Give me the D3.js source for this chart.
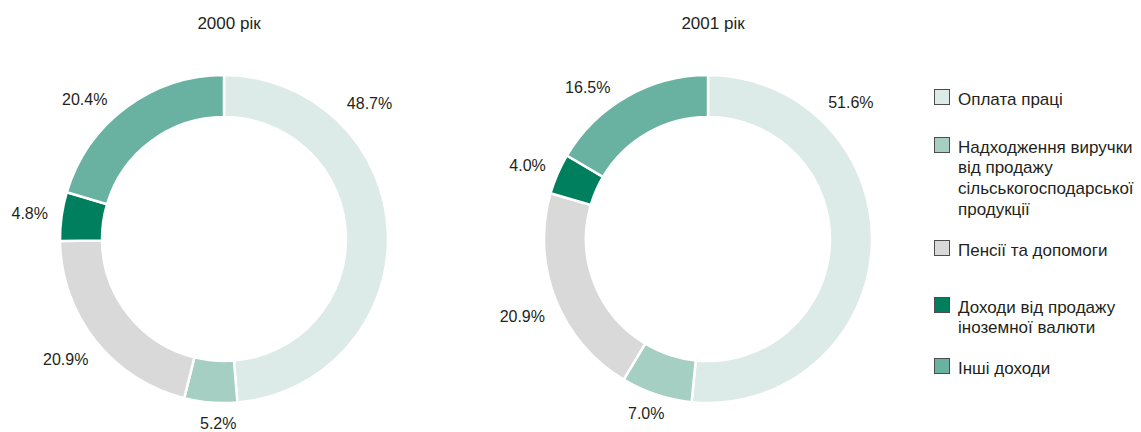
<!DOCTYPE html>
<html><head><meta charset="utf-8">
<script src="https://cdn.jsdelivr.net/npm/d3@7"></script>
<style>
html,body{margin:0;padding:0;background:#fff;}
svg{display:block;font-family:"Liberation Sans",Arial,Helvetica,sans-serif;}
</style></head><body>
<svg id="c" width="1141" height="432"></svg>
<script>
// ---- data ----
const categories = ["Оплата праці","Надходження виручки від продажу сільськогосподарської продукції","Пенсії та допомоги","Доходи від продажу іноземної валюти","Інші доходи"];
const legendLines = [["Оплата праці"],["Надходження виручки","від продажу","сільськогосподарської","продукції"],["Пенсії та допомоги"],["Доходи від продажу","іноземної валюти"],["Інші доходи"]];
const years = ["2000 рік","2001 рік"];
const values2000 = [48.7, 5.2, 20.9, 4.8, 20.4];
const values2001 = [51.6, 7.0, 20.9, 4.0, 16.5];

// ---- layout / style ----
const colors = ["#dcebe7","#a4cfc2","#d9d9d9","#007f5e","#69b2a2"];
const charts = [
  {values: values2000, title: years[0], cx: 224, cy: 239,
   labelPolar: [[47,199],[181.8,184],[232.7,199],[277.6,196],[315,197]]},
  {values: values2001, title: years[1], cx: 708, cy: 239,
   labelPolar: [[46.2,198],[199.5,185],[247.5,201],[292.3,195],[321.7,194]]}
];
const outerR = 164, innerR = 122;

const svg = d3.select("#c");
const pie = d3.pie().sort(null).value(d => d);
const arc = d3.arc().innerRadius(innerR).outerRadius(outerR);

charts.forEach(ch => {
  const g = svg.append("g").attr("transform", `translate(${ch.cx},${ch.cy})`);
  g.selectAll("path").data(pie(ch.values)).join("path")
    .attr("d", arc)
    .attr("fill", (d,i) => colors[i])
    .attr("stroke", "#fff").attr("stroke-width", 2.5);
  g.selectAll("text.lbl").data(pie(ch.values)).join("text")
    .attr("class","lbl")
    .attr("x", (d,i) => ch.labelPolar[i][1] * Math.sin(ch.labelPolar[i][0]*Math.PI/180))
    .attr("y", (d,i) => -ch.labelPolar[i][1] * Math.cos(ch.labelPolar[i][0]*Math.PI/180))
    .attr("dy","0.36em")
    .attr("text-anchor","middle")
    .attr("font-size",16).attr("fill","#231f20")
    .text(d => d.data.toFixed(1) + "%");
  svg.append("text").attr("x", ch.cx + 5).attr("y", 29)
    .attr("text-anchor","middle").attr("font-size",17).attr("fill","#231f20")
    .text(ch.title);
});

// legend
const legendTops = [89, 137, 240, 297, 358];
const lg = svg.append("g");
categories.forEach((c,i) => {
  const item = lg.append("g").attr("transform", `translate(934,${legendTops[i]})`);
  item.append("rect").attr("x",0.5).attr("y",0.5).attr("width",15).attr("height",15)
    .attr("fill", colors[i]).attr("stroke","#4d4d4d").attr("stroke-width",1);
  const t = item.append("text").attr("x",24).attr("y",15.5)
    .attr("font-size",17).attr("fill","#231f20");
  legendLines[i].forEach((ln,j) => {
    t.append("tspan").attr("x",24).attr("dy", j===0 ? 0 : 20.7).text(ln);
  });
});
</script></body></html>
